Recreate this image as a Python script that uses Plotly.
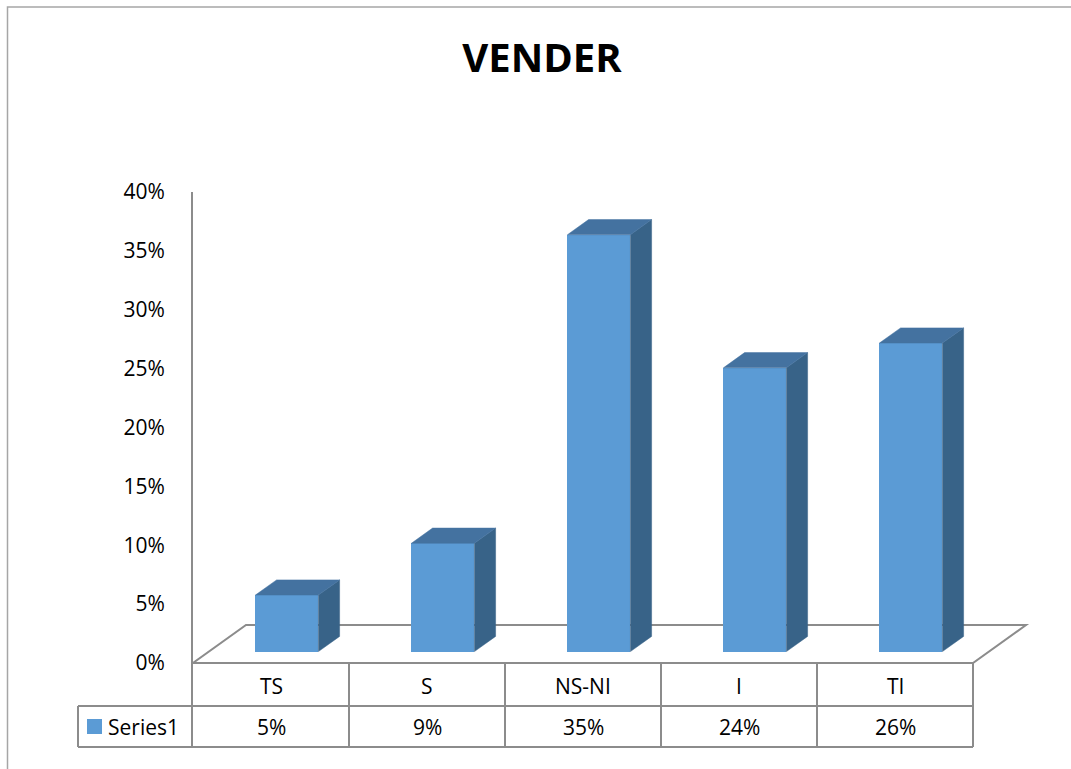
import plotly.graph_objects as go

# ---- data ----
categories = ["TS", "S", "NS-NI", "I", "TI"]
values = [0.048, 0.092, 0.354, 0.241, 0.262]
series_name = "Series1"
title_text = "VENDER"
y_tickvals = [0, 0.05, 0.10, 0.15, 0.20, 0.25, 0.30, 0.35, 0.40]
y_ticktext = ["0%", "5%", "10%", "15%", "20%", "25%", "30%", "35%", "40%"]

# ---- geometry (layout) ----
W, H = 1071, 769
L_PX, R_PX = 193, 1032          # plot area left/right pixel
T_PX, B_PX = 192, 747           # plot area top/bottom pixel
ZERO_PX = 663                   # pixel of y=0 on front edge
Y_MAX = 0.40
PX_PER_Y = (ZERO_PX - T_PX) / Y_MAX
Y_MIN = -(B_PX - ZERO_PX) / PX_PER_Y
CAT_PX = 156.0
X_MIN = -0.5
X_MAX = X_MIN + (R_PX - L_PX) / CAT_PX

DX = 53 / CAT_PX                # floor depth in x units
DY = 38 / PX_PER_Y              # floor depth in y units
F0, F1 = 0.3, 0.7               # bar depth fractions
BAR_W = 63 / CAT_PX
ROW1 = -(706 - ZERO_PX) / PX_PER_Y
ROW1_MID = -(686 - ZERO_PX) / PX_PER_Y
ROW2_MID = -(727 - ZERO_PX) / PX_PER_Y

FRONT = "#5B9BD5"
TOP = "#4472A0"
SIDE = "#386388"
GRID = "#8C8C8C"
FONT = "Open Sans"

def paper_x(px):
    return (px - L_PX) / (R_PX - L_PX)

def paper_y(py):
    return (B_PX - py) / (B_PX - T_PX)

fig = go.Figure()

# side and top faces
bx0 = F0 * DX
by0 = F0 * DY
ddx = (F1 - F0) * DX
ddy = (F1 - F0) * DY
side_x, side_y, top_x, top_y = [], [], [], []
for i, v in enumerate(values):
    xl = i + bx0 - BAR_W / 2
    xr = i + bx0 + BAR_W / 2
    b = by0
    side_x += [xr, xr + ddx, xr + ddx, xr, xr, None]
    side_y += [b, b + ddy, b + ddy + v, b + v, b, None]
    top_x += [xl, xr, xr + ddx, xl + ddx, xl, None]
    top_y += [b + v, b + v, b + v + ddy, b + v + ddy, b + v, None]

fig.add_trace(go.Scatter(x=side_x, y=side_y, fill="toself", fillcolor=SIDE,
                         mode="lines", line=dict(width=0.5, color=SIDE),
                         hoverinfo="skip", showlegend=False))
fig.add_trace(go.Scatter(x=top_x, y=top_y, fill="toself", fillcolor=TOP,
                         mode="lines", line=dict(width=0.5, color=TOP),
                         hoverinfo="skip", showlegend=False))
fig.add_trace(go.Bar(x=[i + bx0 for i in range(len(values))], y=values,
                     base=by0, width=BAR_W, name=series_name,
                     marker=dict(color=FRONT, line=dict(width=0)),
                     showlegend=False))

shapes = []
# floor
floor_path = (f"M {X_MIN},0 L {len(categories) - 0.5},0 "
              f"L {len(categories) - 0.5 + DX},{DY} L {X_MIN + DX},{DY} Z")
shapes.append(dict(type="path", path=floor_path, xref="x", yref="y",
                   line=dict(color=GRID, width=2), layer="below"))
# table vertical lines
for k in range(1, len(categories) + 1):
    shapes.append(dict(type="line", xref="x", yref="y", x0=k - 0.5, x1=k - 0.5,
                       y0=0, y1=Y_MIN, line=dict(color=GRID, width=2), layer="below"))
# table horizontal lines (extend left into Series1 cell)
for yy in [ROW1, Y_MIN]:
    shapes.append(dict(type="line", xref="paper", yref="paper",
                       x0=paper_x(78), x1=paper_x(L_PX + CAT_PX * len(categories)),
                       y0=paper_y(ZERO_PX - yy * PX_PER_Y),
                       y1=paper_y(ZERO_PX - yy * PX_PER_Y),
                       line=dict(color=GRID, width=2), layer="below"))
shapes.append(dict(type="line", xref="paper", yref="paper",
                   x0=paper_x(78), x1=paper_x(78), y0=paper_y(706), y1=paper_y(747),
                   line=dict(color=GRID, width=2)))
# legend key square
shapes.append(dict(type="rect", xref="paper", yref="paper",
                   x0=paper_x(87), x1=paper_x(102), y0=paper_y(719), y1=paper_y(734),
                   fillcolor=FRONT, line=dict(width=0)))
# chart border
shapes.append(dict(type="rect", xref="paper", yref="paper",
                   x0=paper_x(7.5), x1=paper_x(1090), y0=paper_y(7), y1=paper_y(790),
                   line=dict(color="#A6A6A6", width=1.5), layer="below"))

annotations = []
for i, c in enumerate(categories):
    annotations.append(dict(x=i, y=ROW1_MID, xref="x", yref="y", text=c,
                            xanchor="center", yanchor="middle",
                            showarrow=False, font=dict(family=FONT, size=21, color="black")))
for i, v in enumerate(values):
    annotations.append(dict(x=i, y=ROW2_MID, xref="x", yref="y", text=f"{v:.0%}",
                            xanchor="center", yanchor="middle",
                            showarrow=False, font=dict(family=FONT, size=21, color="black")))
annotations.append(dict(x=paper_x(106), y=paper_y(727), xref="paper", yref="paper",
                        text=series_name, xanchor="left", yanchor="middle", showarrow=False,
                        font=dict(family=FONT, size=21, color="black")))

fig.update_layout(
    width=W, height=H,
    margin=dict(l=L_PX, r=W - R_PX, t=T_PX, b=H - B_PX, pad=0),
    paper_bgcolor="white", plot_bgcolor="white",
    title=dict(text=f"<b>{title_text}</b>", x=542 / W, xref="container", xanchor="center",
               y=1 - 58 / H, yref="container", yanchor="middle",
               font=dict(family=FONT, size=40, color="black")),
    xaxis=dict(range=[X_MIN, X_MAX], visible=False, showgrid=False, zeroline=False),
    yaxis=dict(range=[Y_MIN, Y_MAX], tickvals=y_tickvals, ticktext=y_ticktext,
               showgrid=False, zeroline=False, showline=True, linecolor=GRID, linewidth=2,
               ticks="outside", ticklen=22, tickcolor="rgba(0,0,0,0)",
               tickfont=dict(family=FONT, size=21, color="black")),
    shapes=shapes, annotations=annotations, showlegend=False, bargap=0,
)

fig.write_html("out.html", config={"displayModeBar": False},
               post_script="document.body.style.margin='0px';document.body.style.overflow='hidden';")
